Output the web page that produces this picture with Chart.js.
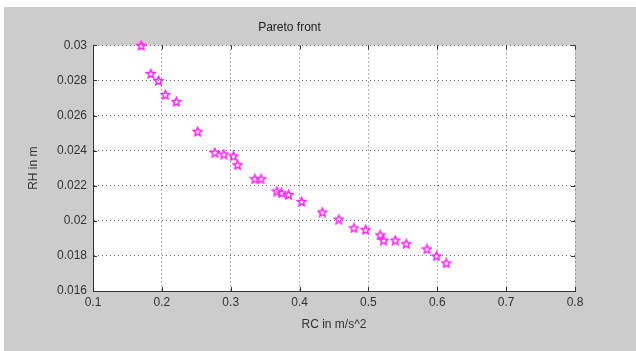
<!DOCTYPE html>
<html>
<head>
<meta charset="utf-8">
<script src="https://cdn.jsdelivr.net/npm/chart.js@4/dist/chart.umd.min.js"></script>
<style>
  html, body { margin: 0; padding: 0; background: #fff; }
  #frame { position: absolute; left: 4px; top: 7px; width: 632px; height: 344px; background: #cccccc; }
</style>
</head>
<body>
<div id="frame"><canvas id="pareto" width="632" height="344"></canvas></div>
<script>
// Pareto front points
const rcValues = [0.170, 0.184, 0.195, 0.205, 0.221, 0.252, 0.277, 0.290, 0.304, 0.310,
  0.335, 0.344, 0.367, 0.374, 0.384, 0.403, 0.433, 0.457, 0.479, 0.496,
  0.517, 0.522, 0.539, 0.555, 0.585, 0.599, 0.613];
const rhValues = [0.0300, 0.0284, 0.0280, 0.0272, 0.0268, 0.0251, 0.0239, 0.0238, 0.0237, 0.0232,
  0.0224, 0.0224, 0.0217, 0.0216, 0.0215, 0.0211, 0.0205, 0.0201, 0.0196, 0.0195,
  0.0192, 0.0189, 0.0189, 0.0187, 0.0184, 0.0180, 0.0176];
const xTicks = [0.1, 0.2, 0.3, 0.4, 0.5, 0.6, 0.7, 0.8];
const yTicks = [0.016, 0.018, 0.02, 0.022, 0.024, 0.026, 0.028, 0.03];

function starMarker(size, color) {
  const c = document.createElement("canvas");
  c.width = size; c.height = size;
  const g = c.getContext("2d");
  const cx = size / 2, cy = size / 2 + 0.5, ro = size / 2 - 1, ri = ro * 0.45;
  g.beginPath();
  for (let i = 0; i < 10; i++) {
    const r = i % 2 === 0 ? ro : ri;
    const a = -Math.PI / 2 + i * Math.PI / 5;
    g.lineTo(cx + r * Math.cos(a), cy + r * Math.sin(a));
  }
  g.closePath();
  g.strokeStyle = color;
  g.lineWidth = 1.5;
  g.stroke();
  return c;
}

// MATLAB style inward ticks on all four sides
const inwardTicks = {
  id: "inwardTicks",
  afterDatasetsDraw(chart) {
    const { ctx, chartArea: a, scales } = chart;
    ctx.save();
    ctx.strokeStyle = "#333";
    ctx.lineWidth = 1;
    xTicks.forEach((v) => {
      const x = Math.round(scales.x.getPixelForValue(v)) + 0.5;
      ctx.beginPath();
      ctx.moveTo(x, a.bottom); ctx.lineTo(x, a.bottom - 4);
      ctx.moveTo(x, a.top); ctx.lineTo(x, a.top + 4);
      ctx.stroke();
    });
    yTicks.forEach((v) => {
      const y = Math.round(scales.y.getPixelForValue(v)) + 0.5;
      ctx.beginPath();
      ctx.moveTo(a.left, y); ctx.lineTo(a.left + 4, y);
      ctx.moveTo(a.right, y); ctx.lineTo(a.right - 4, y);
      ctx.stroke();
    });
    ctx.restore();
  },
};

const plotBg = {
  id: "plotBg",
  beforeDraw(chart) {
    const { ctx, chartArea: a } = chart;
    ctx.save();
    ctx.fillStyle = "#fff";
    ctx.fillRect(a.left, a.top, a.right - a.left, a.bottom - a.top);
    ctx.restore();
  },
};

const tickFont = { family: "Liberation Sans, Arial, sans-serif", size: 12 };

new Chart(document.getElementById("pareto"), {
  type: "scatter",
  data: {
    datasets: [{
      label: "Pareto front",
      data: rcValues.map((x, i) => ({ x: x, y: rhValues[i] })),
      pointStyle: starMarker(11, "#ff22ff"),
      pointRadius: 6,
      pointHoverRadius: 6,
      clip: false,
    }],
  },
  options: {
    responsive: false,
    animation: false,
    layout: { padding: { right: 61, left: 0, top: 0, bottom: 0 } },
    plugins: {
      legend: { display: false },
      tooltip: { enabled: false },
      title: {
        display: true,
        text: "Pareto front",
        color: "#222",
        font: { family: tickFont.family, size: 12, weight: "normal" },
        padding: { top: 13, bottom: 11 },
      },
    },
    scales: {
      x: {
        type: "linear",
        min: 0.1,
        max: 0.8,
        afterBuildTicks: (s) => { s.ticks = xTicks.map((v) => ({ value: v })); },
        afterFit: (s) => { s.height = 60; },
        ticks: { color: "#333", font: tickFont, padding: 4, autoSkip: false, maxRotation: 0, callback: (v) => String(v) },
        grid: { color: "#666", drawTicks: false, lineWidth: 1 },
        border: { display: true, color: "#333", width: 1, dash: [1, 3] },
        title: { display: true, text: "RC in m/s^2", color: "#333", font: tickFont, padding: { top: 0, bottom: 19 } },
      },
      y: {
        type: "linear",
        min: 0.016,
        max: 0.03,
        afterBuildTicks: (s) => { s.ticks = yTicks.map((v) => ({ value: v })); },
        afterFit: (s) => { s.width = 89; },
        ticks: { color: "#333", font: tickFont, padding: 6, autoSkip: false, callback: (v) => String(+v.toFixed(3)) },
        grid: { color: "#666", drawTicks: false, lineWidth: 1 },
        border: { display: true, color: "#333", width: 1, dash: [1, 3] },
        title: { display: true, text: "RH in m", color: "#333", font: tickFont, padding: { top: 22, bottom: 0 } },
      },
    },
  },
  plugins: [plotBg, inwardTicks],
});
</script>
</body>
</html>
